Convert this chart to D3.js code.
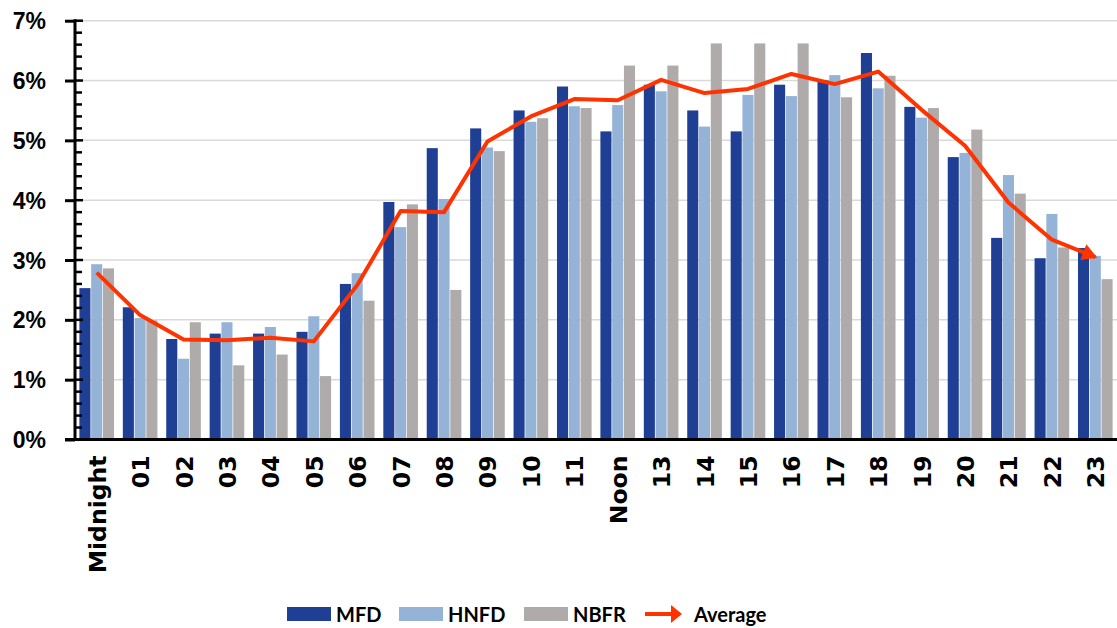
<!DOCTYPE html>
<html>
<head>
<meta charset="utf-8">
<script src="https://cdn.jsdelivr.net/npm/d3@7"></script>
<style>
  html, body { margin: 0; padding: 0; background: #fff; }
  svg { display: block; font-family: "Open Sans", "DejaVu Sans", sans-serif; }
  .lbl { font-weight: 700; fill: #000; font-variant-numeric: oldstyle-nums; font-feature-settings: "onum" 1; }
  .xlbl { font-family: "DejaVu Sans", sans-serif; }
  .leg { font-family: Lato, "Open Sans", sans-serif; }
</style>
</head>
<body>
<svg id="chart" width="1117" height="628"></svg>
<script>
// Share of daily incidents by hour of day
const hours = ["Midnight", "01", "02", "03", "04", "05", "06", "07", "08", "09", "10", "11",
               "Noon", "13", "14", "15", "16", "17", "18", "19", "20", "21", "22", "23"];
const mfd  = [2.53, 2.21, 1.68, 1.77, 1.77, 1.80, 2.60, 3.97, 4.87, 5.20, 5.50, 5.90,
              5.15, 5.93, 5.50, 5.15, 5.93, 6.00, 6.46, 5.56, 4.72, 3.37, 3.03, 3.20];
const hnfd = [2.93, 2.03, 1.35, 1.96, 1.88, 2.06, 2.78, 3.55, 4.02, 4.88, 5.31, 5.57,
              5.59, 5.82, 5.23, 5.76, 5.74, 6.09, 5.87, 5.38, 4.79, 4.42, 3.77, 3.07];
const nbfr = [2.86, 1.99, 1.96, 1.24, 1.42, 1.06, 2.32, 3.93, 2.50, 4.82, 5.37, 5.54,
              6.25, 6.25, 6.62, 6.62, 6.62, 5.72, 6.08, 5.54, 5.18, 4.11, 3.21, 2.68];
const average = [2.79, 2.08, 1.67, 1.66, 1.70, 1.64, 2.58, 3.82, 3.80, 4.98, 5.40, 5.69,
                 5.67, 6.01, 5.79, 5.86, 6.11, 5.94, 6.15, 5.51, 4.91, 3.96, 3.34, 3.05];
const seriesNames = ["MFD", "HNFD", "NBFR"];
const seriesColors = ["#1f3f94", "#95b3d7", "#afabab"];
const lineName = "Average";
const lineColor = "#ff3300";
const yTicks = [0, 1, 2, 3, 4, 5, 6, 7];

const barSeries = [mfd, hnfd, nbfr];

const svg = d3.select("#chart");
const plotLeft = 75, plotRight = 1117, plotTop = 20.7, plotBottom = 439.5;

const x0 = d3.scaleBand().domain(hours).range([plotLeft, plotRight])
  .paddingInner(0.17).paddingOuter(0.085);
const x1 = d3.scaleBand().domain(seriesNames).range([0, x0.bandwidth()]).padding(0.06);
const y = d3.scaleLinear().domain([0, 7]).range([plotBottom, plotTop]);

// gridlines
svg.append("g").selectAll("line").data(yTicks.slice(1)).join("line")
  .attr("x1", plotLeft).attr("x2", plotRight)
  .attr("y1", d => y(d)).attr("y2", d => y(d))
  .attr("stroke", "#d9d9d9").attr("stroke-width", 1.5);

// bars
const groups = svg.append("g").selectAll("g").data(hours).join("g")
  .attr("transform", d => `translate(${x0(d)},0)`);
groups.selectAll("rect")
  .data((h, i) => seriesNames.map((s, k) => ({ s, k, v: barSeries[k][i] })))
  .join("rect")
  .attr("x", d => x1(d.s))
  .attr("width", x1.bandwidth())
  .attr("y", d => y(d.v))
  .attr("height", d => y(0) - y(d.v))
  .attr("fill", d => seriesColors[d.k]);

// arrow markers for the average line
const defs = svg.append("defs");
function arrowMarker(id, w, h) {
  defs.append("marker")
    .attr("id", id)
    .attr("markerUnits", "userSpaceOnUse")
    .attr("viewBox", `0 0 ${w} ${h}`)
    .attr("refX", w - 2).attr("refY", h / 2)
    .attr("markerWidth", w).attr("markerHeight", h)
    .attr("orient", "auto")
    .append("path").attr("d", `M0,0 L${w},${h / 2} L0,${h} Z`).attr("fill", lineColor);
}
arrowMarker("arrow", 15, 17);
arrowMarker("arrowLegend", 11, 18);

const line = d3.line()
  .x((d, i) => x0(hours[i]) + x0.bandwidth() / 2)
  .y(d => y(d));
svg.append("path").datum(average)
  .attr("d", line)
  .attr("fill", "none")
  .attr("stroke", lineColor)
  .attr("stroke-width", 4)
  .attr("stroke-linejoin", "round")
  .attr("marker-end", "url(#arrow)");

// y axis: labels and outer half of major ticks
const yAxis = svg.append("g").attr("transform", `translate(${plotLeft},0)`)
  .call(d3.axisLeft(y).tickValues(yTicks).tickSize(10).tickPadding(19)
    .tickFormat(d => d + "%"));
yAxis.select(".domain").remove();
yAxis.selectAll("line").attr("stroke", "#000").attr("stroke-width", 3);
yAxis.selectAll("text").attr("class", "lbl").style("font-size", "23px")
  .attr("dy", "0.35em");

// inner half of major ticks and minor ticks
const minor = d3.range(0, 7.001, 0.2).map(v => +v.toFixed(1));
svg.append("g").selectAll("line").data(minor).join("line")
  .attr("x1", plotLeft).attr("x2", d => plotLeft + (Number.isInteger(d) ? 8 : 7))
  .attr("y1", d => y(d)).attr("y2", d => y(d))
  .attr("stroke", "#000").attr("stroke-width", 2.5);

// axis lines
svg.append("line").attr("x1", plotLeft).attr("x2", plotLeft)
  .attr("y1", plotTop - 1.5).attr("y2", plotBottom + 1.5)
  .attr("stroke", "#000").attr("stroke-width", 3);
svg.append("line").attr("x1", plotLeft - 10).attr("x2", plotRight)
  .attr("y1", plotBottom).attr("y2", plotBottom)
  .attr("stroke", "#000").attr("stroke-width", 3);

// x axis labels, rotated
const xAxis = svg.append("g").attr("transform", `translate(0,${plotBottom})`)
  .call(d3.axisBottom(x0).tickSize(0).tickPadding(0));
xAxis.select(".domain").remove();
xAxis.selectAll("text")
  .attr("class", "lbl xlbl")
  .style("font-size", "23.5px")
  .attr("text-anchor", "end")
  .attr("dy", null)
  .attr("y", 0)
  .attr("transform", "translate(1,16) rotate(-90)")
  .attr("x", 0)
  .attr("dominant-baseline", "central");

// legend
const legend = svg.append("g");
const legendX = [287, 399, 524];
seriesNames.forEach((s, k) => {
  legend.append("rect").attr("x", legendX[k]).attr("y", 607)
    .attr("width", 44).attr("height", 14).attr("fill", seriesColors[k]);
  legend.append("text").attr("class", "lbl leg").attr("x", legendX[k] + 49).attr("y", 614)
    .attr("dominant-baseline", "central").style("font-size", "20px").text(s);
});
legend.append("line").attr("x1", 645).attr("x2", 680).attr("y1", 614).attr("y2", 614)
  .attr("stroke", lineColor).attr("stroke-width", 4).attr("marker-end", "url(#arrowLegend)");
legend.append("text").attr("class", "lbl leg").attr("x", 694).attr("y", 614)
  .attr("dominant-baseline", "central").style("font-size", "20px").text(lineName);
</script>
</body>
</html>
